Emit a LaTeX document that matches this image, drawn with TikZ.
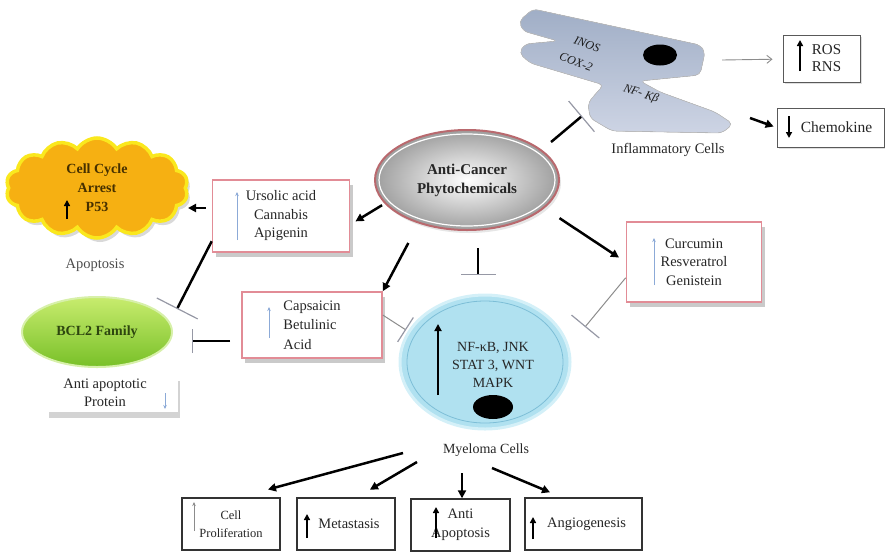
\documentclass[tikz,border=0pt]{standalone}
\usepackage{fontspec}
\setmainfont{Liberation Serif}
\usetikzlibrary{shapes.geometric,shapes.symbols,arrows.meta,shadows}

\definecolor{pinkedge}{RGB}{226,140,150}
\definecolor{cloudfill}{RGB}{246,176,18}
\definecolor{cloudedge}{RGB}{250,232,30}
\definecolor{bclhi}{RGB}{200,236,110}
\definecolor{bcllo}{RGB}{120,192,40}
\definecolor{bclrim}{RGB}{215,240,170}
\definecolor{myfill}{RGB}{176,225,240}
\definecolor{myglow}{RGB}{212,240,248}
\definecolor{myring}{RGB}{125,190,215}
\definecolor{celltop}{RGB}{160,174,198}
\definecolor{cellbot}{RGB}{205,212,228}
\definecolor{barcol}{RGB}{150,152,165}
\definecolor{upblue}{RGB}{140,170,215}
\definecolor{acpedge}{RGB}{185,105,110}
\definecolor{cloudtext}{RGB}{70,48,0}
\definecolor{bcltext}{RGB}{45,70,15}

\tikzset{
  base/.style={font=\fontsize{14.5}{18.5}\selectfont, text=black!85, align=center},
  celltext/.style={font=\itshape\fontsize{12}{14}\selectfont, text=black!90, inner sep=0pt},
  pinkbox/.style={base, draw=pinkedge, line width=1.6pt, fill=white, inner sep=0pt,
    drop shadow={shadow xshift=3pt, shadow yshift=-5pt, opacity=0.35, fill=black!60}},
  outbox/.style={base, draw=black!80, line width=1.4pt, fill=white, inner sep=0pt},
  sidebox/.style={base, draw=black!65, line width=1pt, fill=white, inner sep=0pt,
    drop shadow={shadow xshift=2pt, shadow yshift=-2pt, opacity=0.25}},
  arr/.style={line width=2.5pt, -{Triangle[length=8pt,width=8pt]}},
  thinarr/.style={draw=black!45, line width=0.9pt, -{Straight Barb[length=5pt,width=8pt]}},
  inhib/.style={line width=2.5pt, -{Bar[width=#1, line width=1.2pt, color=barcol]}},
  thininhib/.style={draw=black!45, line width=1pt, -{Bar[width=#1, line width=1.2pt, color=barcol]}},
  upbold/.style={line width=2.2pt, -{Triangle[length=6pt,width=6pt]}},
  upthin/.style={draw=upblue, line width=0.8pt, -{Stealth[length=4pt,width=3.5pt]}},
  upgray/.style={draw=black!45, line width=0.8pt, -{Stealth[length=4pt,width=3.5pt]}},
  cellbody/.style={top color=celltop, bottom color=cellbot, draw=black!25, line width=0.6pt},
}

\begin{document}
\begin{tikzpicture}[x=1pt,y=-1pt]
\useasboundingbox (0,0) rectangle (885,555);

% ---------- inflammatory cell ----------
\filldraw[cellbody, rounded corners=5pt]
  (533,9) -- (700,45) -- (705,52) -- (700,75) -- (640,81) -- (660,92)
  -- (715,112) -- (733,124) -- (722,133) -- (612,131) -- (590,118)
  -- (588,103) -- (598,91) -- (604,85) -- (530,63) -- (519,53)
  -- (525,44) -- (558,41) -- (523,31) -- (519,21) -- cycle;
\fill[black] (660,55) ellipse [x radius=17pt, y radius=10.5pt];
\node[celltext, rotate=-20] (inos) at (587,44) {INOS};
\node[celltext, rotate=-20] (cox) at (576,62) {COX-2};
\node[celltext, rotate=-18] (nfkb) at (641,94) {NF- Kβ};
\node[base] (inflab) at (668,150) {Inflammatory Cells};
\coordinate (cellR) at (722,60);
\coordinate (cellC) at (750,118);

% ---------- right-hand outputs ----------
\node[sidebox, minimum width=77pt, minimum height=47pt, font=\fontsize{15}{17}\selectfont] (ros) at (821.5,58.5) {\hspace*{10pt}ROS\\\hspace*{10pt}RNS};
\draw[upbold] (800,71) -- (800,40);
\node[sidebox, minimum width=107pt, minimum height=39pt, font=\fontsize{15.5}{17}\selectfont] (chem) at (830.5,127.5) {\hspace*{12pt}Chemokine};
\draw[upbold] (789,116) -- (789,138);

% ---------- central phytochemicals ----------
\node[ellipse, minimum width=184pt, minimum height=100pt, draw=acpedge, line width=2pt,
      inner color=white, outer color=black!38,
      drop shadow={shadow xshift=2pt, shadow yshift=-3pt, opacity=0.2},
      font=\bfseries\fontsize{15}{19}\selectfont, text=black!85, align=center] (acp) at (467,180)
      {Anti-Cancer\\Phytochemicals};
\draw[white, line width=1.2pt] (acp.center) ellipse [x radius=88pt, y radius=46pt];

% ---------- myeloma cell ----------
\node[ellipse, minimum width=170pt, minimum height=134pt, fill=myfill, draw=myglow, line width=3pt] (my) at (485,362) {};
\draw[myring, line width=0.8pt] (my.center) ellipse [x radius=78pt, y radius=61pt];
\fill[black] (493,407) ellipse [x radius=20pt, y radius=12pt];
\node[base, font=\fontsize{14}{18}\selectfont] (mytxt) at (493,365) {NF-κB, JNK\\STAT 3, WNT\\MAPK};
\draw[line width=2.5pt, -{Triangle[length=7pt,width=7pt]}] (438,395) -- (438,324);
\node[base, font=\fontsize{14}{18}\selectfont] (mlab) at (486,450) {Myeloma Cells};

% ---------- compound boxes ----------
\node[pinkbox, minimum width=137pt, minimum height=72pt] (urs) at (281,216) {Ursolic acid\\Cannabis\\Apigenin};
\draw[upthin] (237,240) -- (237,192);
\node[pinkbox, minimum width=140pt, minimum height=66pt, align=left, font=\fontsize{14.5}{19.5}\selectfont] (caps) at (312,325) {Capsaicin\\Betulinic\\Acid};
\draw[upthin] (269,338) -- (269,307);
\node[pinkbox, minimum width=135pt, minimum height=80pt] (curc) at (694,262) {Curcumin\\Resveratrol\\Genistein};
\draw[upthin] (654,285) -- (654,238);

% ---------- apoptosis cloud ----------
\node[cloud, cloud puffs=14, cloud puff arc=115, aspect=1.8, minimum width=182pt, minimum height=100pt,
      fill=cloudfill, draw=cloudedge, line width=3.5pt,
      drop shadow={shadow xshift=3pt, shadow yshift=-4pt, opacity=0.3},
      font=\bfseries\fontsize{14}{19}\selectfont, text=cloudtext, align=center] (cloud) at (97,188)
      {Cell Cycle\\Arrest\\P53};
\draw[upbold] (67,219) -- (67,200);
\node[base, text=black!70] (apo) at (95,265) {Apoptosis};
\coordinate (cloudin) at (188,208);

% ---------- BCL2 ----------
\node[ellipse, minimum width=150pt, minimum height=70pt, top color=bclhi, bottom color=bcllo,
      draw=bclrim, line width=2pt, font=\bfseries\fontsize{14}{17}\selectfont, text=bcltext] (bcl) at (97,332) {BCL2 Family};
\node[base, fill=white, minimum width=131pt, minimum height=37pt, inner sep=0pt,
      drop shadow={shadow xshift=2pt, shadow yshift=-6pt, opacity=0.35}] (aap) at (112,393)
      {Anti apoptotic\hspace*{14pt}\\Protein\hspace*{14pt}};
\draw[upthin] (165,393) -- (165,409);

% ---------- bottom outcome boxes ----------
\node[outbox, minimum width=98pt, minimum height=52pt, font=\fontsize{12.5}{18}\selectfont] (box1) at (231,524) {Cell\\Proliferation};
\draw[upgray] (194,531) -- (194,502);
\node[outbox, minimum width=98pt, minimum height=52pt] (box2) at (346,524) {\hspace*{6pt}Metastasis};
\draw[upbold] (307,538) -- (307,514);
\node[outbox, minimum width=99pt, minimum height=52pt, font=\fontsize{14.5}{19}\selectfont] (box3) at (460.5,525) {Anti\\Apoptosis};
\draw[upbold] (436,538) -- (436,507);
\node[outbox, minimum width=117pt, minimum height=52pt] (box4) at (583.5,524) {\hspace*{6pt}Angiogenesis};
\draw[upbold] (533,539) -- (533,517);

% ---------- connectors ----------
\coordinate (infbar) at (582,116);
\coordinate (mbar) at (478,275);
\coordinate (ubar) at (177,309);
\coordinate (cbar) at (192,341);
\coordinate (cmbar) at (406,330);
\coordinate (cubar) at (585,327);

\draw[inhib=40pt, shorten <=12pt] (acp.22) -- (infbar);
\draw[thinarr, shorten >=10pt] (cellR) -- (ros);
\draw[arr, shorten >=3pt] (cellC) -- (chem.west);

\draw[arr, shorten <=3pt, shorten >=6pt] (acp.196) -- (urs.-7);
\draw[arr, shorten <=22pt] (acp.222) -- (caps.north east);
\draw[arr, shorten <=18pt, shorten >=8pt] (acp.-20) -- (curc.west);
\draw[inhib=35pt, shorten <=17pt] (mbar |- acp.south) -- (mbar);

\draw[arr, shorten <=6pt] (urs.west |- cloudin) -- (cloudin);
\draw[inhib=46pt] (urs.200) -- (ubar);
\draw[inhib=24pt, shorten <=11pt] (caps.west |- cbar) -- (cbar);
\draw[thininhib=29pt] (caps.8) -- (cmbar);
\draw[thininhib=36pt] (curc.193) -- (cubar);

\coordinate (s1) at (403,453);
\coordinate (s2) at (417,462);
\coordinate (s3) at (462,473);
\coordinate (s4) at (492,468);
\draw[arr, shorten >=30pt] (s1) -- ([xshift=8pt]box1.north);
\draw[arr, shorten >=15pt] (s2) -- ([xshift=11pt]box2.north);
\draw[arr] (s3) -- ([xshift=1.5pt]box3.north);
\draw[arr, shorten >=13pt] (s4) -- ([xshift=-21.5pt]box4.north);

\end{tikzpicture}
\end{document}
